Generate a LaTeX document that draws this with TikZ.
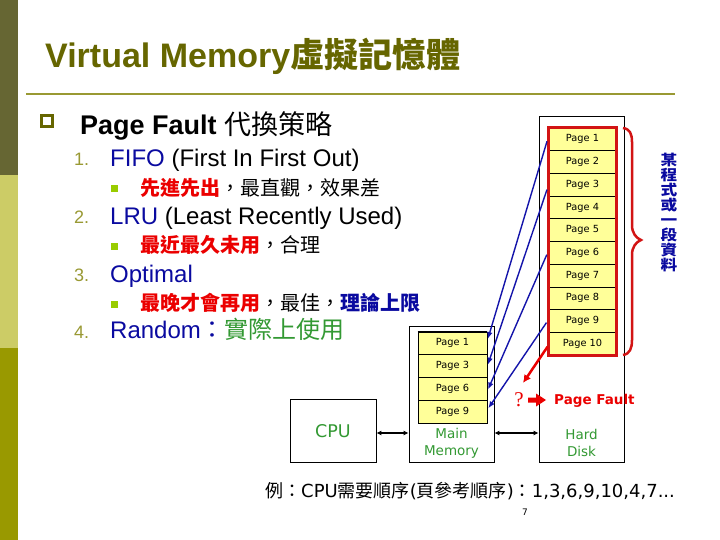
\documentclass[tikz,border=0pt]{standalone}
\usepackage{fontspec}
\setmainfont{Liberation Sans}
\newfontfamily\cjk{Noto Sans CJK TC}
\newfontfamily\dv{DejaVu Sans}
\newfontfamily\serifq{Liberation Serif}
\usetikzlibrary{arrows.meta,calc}
\definecolor{barA}{RGB}{102,102,51}
\definecolor{barB}{RGB}{204,204,102}
\definecolor{barC}{RGB}{153,153,0}
\definecolor{titlec}{RGB}{102,102,0}
\definecolor{rulec}{RGB}{153,153,51}
\definecolor{numc}{RGB}{153,153,51}
\definecolor{bluet}{RGB}{10,10,160}
\definecolor{redt}{RGB}{235,0,0}
\definecolor{greent}{RGB}{51,153,51}
\definecolor{subbul}{RGB}{153,204,0}
\definecolor{yellowc}{RGB}{255,255,153}
\definecolor{bluea}{RGB}{20,20,170}
\definecolor{redb}{RGB}{210,20,20}
\begin{document}
\begin{tikzpicture}[x=1pt,y=-1pt,
  cell/.style={draw=black, line width=0.8pt, fill=yellowc, minimum width=67pt, minimum height=22.7pt, inner sep=0pt, font=\dv\fontsize{9.8}{11}\selectfont},
  mcell/.style={cell, minimum width=69pt, minimum height=22.75pt},
  boxn/.style={draw=black, line width=0.8pt, inner sep=0pt},
  greentxt/.style={text=greent, font=\dv\fontsize{13.5}{17}\selectfont, align=center, inner sep=0pt},
  bluearrow/.style={draw=bluea, line width=1.4pt, -{Latex[length=7pt,width=5.5pt]}, shorten <=2pt, shorten >=1.5pt},
  dblarrow/.style={draw=black, line width=1.5pt, {Latex[length=5pt,width=5pt]}-{Latex[length=5pt,width=5pt]}},
  numtxt/.style={anchor=base west, inner sep=0pt, text=numc, font=\fontsize{18}{22}\selectfont},
  lvlone/.style={anchor=base west, inner sep=0pt, font=\fontsize{24}{28}\selectfont},
  lvltwo/.style={anchor=base west, inner sep=0pt, font=\cjk\fontsize{20}{24}\selectfont},
  subsq/.style={fill=subbul, draw=none, minimum size=7pt, inner sep=0pt}
]
\useasboundingbox (0,0) rectangle (720,540);
\fill[white] (0,0) rectangle (720,540);
% left bar
\fill[barA] (0,0) rectangle (18,175);
\fill[barB] (0,175) rectangle (18,348);
\fill[barC] (0,348) rectangle (18,540);
% title
\node[anchor=base west, inner sep=0pt, text=titlec, font=\fontsize{34}{40}\selectfont\bfseries] (title) at (45,68) {Virtual Memory{\cjk\bfseries 虛擬記憶體}};
\draw[rulec, line width=2pt] (26,94) -- (675,94);
% main bullet
\draw[titlec, line width=3pt] (41.5,115.5) rectangle (52.5,126.5);
\node[anchor=base west, inner sep=0pt, font=\fontsize{27}{32}\selectfont] (pf) at (80,135) {\bfseries Page Fault {\cjk\mdseries 代換策略}};
% items
\node[numtxt] (n1) at (74,166) {1.};
\node[lvlone] (i1) at (110,167) {{\color{bluet}FIFO} (First In First Out)};
\node[subsq] (b1) at (114.5,189) {};
\node[lvltwo] (s1) at (140,195.5) {{\bfseries\color{redt}先進先出}，最直觀，效果差};
\node[numtxt] (n2) at (74,224) {2.};
\node[lvlone] (i2) at (110,225) {{\color{bluet}LRU} (Least Recently Used)};
\node[subsq] (b2) at (114.5,246) {};
\node[lvltwo] (s2) at (140,252.5) {{\bfseries\color{redt}最近最久未用}，合理};
\node[numtxt] (n3) at (74,281) {3.};
\node[lvlone] (i3) at (110,282) {\color{bluet}Optimal};
\node[subsq] (b3) at (114.5,304) {};
\node[lvltwo] (s3) at (140,310.5) {{\bfseries\color{redt}最晚才會再用}，最佳，{\bfseries\color{bluet}理論上限}};
\node[numtxt] (n4) at (74,338) {4.};
\node[lvlone] (i4) at (110,338) {{\color{bluet}Random}{\cjk\color{bluet}：}{\cjk\color{greent}實際上使用}};
% boxes
\node[boxn, minimum width=86pt, minimum height=63pt] (cpu) at (333,430.5) {};
\node[text=greent, font=\dv\fontsize{17.5}{20}\selectfont, inner sep=0pt] (cputxt) at (333,431) {CPU};
\node[boxn, minimum width=85pt, minimum height=136pt] (mm) at (451.5,394) {};
\node[greentxt] (mmtxt) at (451.5,443) {Main\\Memory};
\node[boxn, minimum width=85pt, minimum height=346pt] (hd) at (581.5,289) {};
\node[greentxt] (hdtxt) at (581.5,443) {Hard\\Disk};
% disk pages
\foreach \k in {1,...,10} {
  \node[cell] (d\k) at (582.5,{128+22.7*(\k-0.5)}) {Page \k};
}
\draw[redb, line width=3pt] (d1.north west) rectangle (d10.south east);
% memory pages
\node[mcell] (m1) at (452.5,343.4) {Page 1};
\node[mcell] (m2) at (452.5,366.1) {Page 3};
\node[mcell] (m3) at (452.5,388.9) {Page 6};
\node[mcell] (m4) at (452.5,411.6) {Page 9};
\draw[black, line width=2pt] (m1.north west) -- (m1.north east);
% double arrows
\coordinate (busy) at (0,433);
\draw[dblarrow] (cpu.east |- busy) -- (mm.west |- busy);
\draw[dblarrow] (mm.east |- busy) -- (hd.west |- busy);
% blue arrows
\draw[bluearrow] ([xshift=-1pt]d1.west) -- ([yshift=3pt]m1.east);
\draw[bluearrow] ([xshift=-1pt,yshift=-3pt]d3.west) -- (m2.east);
\draw[bluearrow] ([xshift=-1pt]d6.west) -- ([yshift=-2pt]m3.east);
\draw[bluearrow] ([xshift=-1pt]d9.west) -- ([yshift=2pt]m4.east);
% red arrow to page fault
\coordinate (qtip) at (523,383);
\draw[draw=redt, line width=2.5pt, -{Latex[length=8pt,width=8pt]}] ([yshift=-3pt,xshift=-1pt]d10.west) -- (qtip);
\node[text=redt, font=\serifq\fontsize{21}{24}\selectfont, inner sep=0pt] (qm) at (519,400) {?};
\fill[redt] (528,397.5) -- (536,397.5) -- (536,393.5) -- (546,400) -- (536,406.5) -- (536,402.5) -- (528,402.5) -- cycle;
\node[anchor=west, text=redt, font=\dv\bfseries\fontsize{13.5}{16}\selectfont, inner sep=0pt] (pft) at (554,401) {Page Fault};
% brace
\draw[redb, line width=2.5pt] (623,128) .. controls (630,129) and (632,134) .. (632,142) -- (632,225) .. controls (632,233) and (636,238) .. (641,240) .. controls (636,242) and (632,247) .. (632,255) -- (632,340) .. controls (632,348) and (630,354) .. (623,355);
% vertical text
\node[text=bluet, font=\cjk\bfseries\fontsize{14.5}{15}\selectfont, align=center, inner sep=0pt, xscale=1.15] (vt) at (669,212) {某\\程\\式\\或\\一\\段\\資\\料};
% bottom text
\node[anchor=base west, inner sep=0pt, font=\dv\fontsize{18}{22}\selectfont] (ex) at (265,497) {{\cjk 例：}CPU{\cjk 需要順序}({\cjk 頁參考順序}){\cjk ：}1,3,6,9,10,4,7...};
\node[font=\dv\fontsize{9}{11}\selectfont, inner sep=0pt] (pg) at (525,512) {7};
\end{tikzpicture}
\end{document}
